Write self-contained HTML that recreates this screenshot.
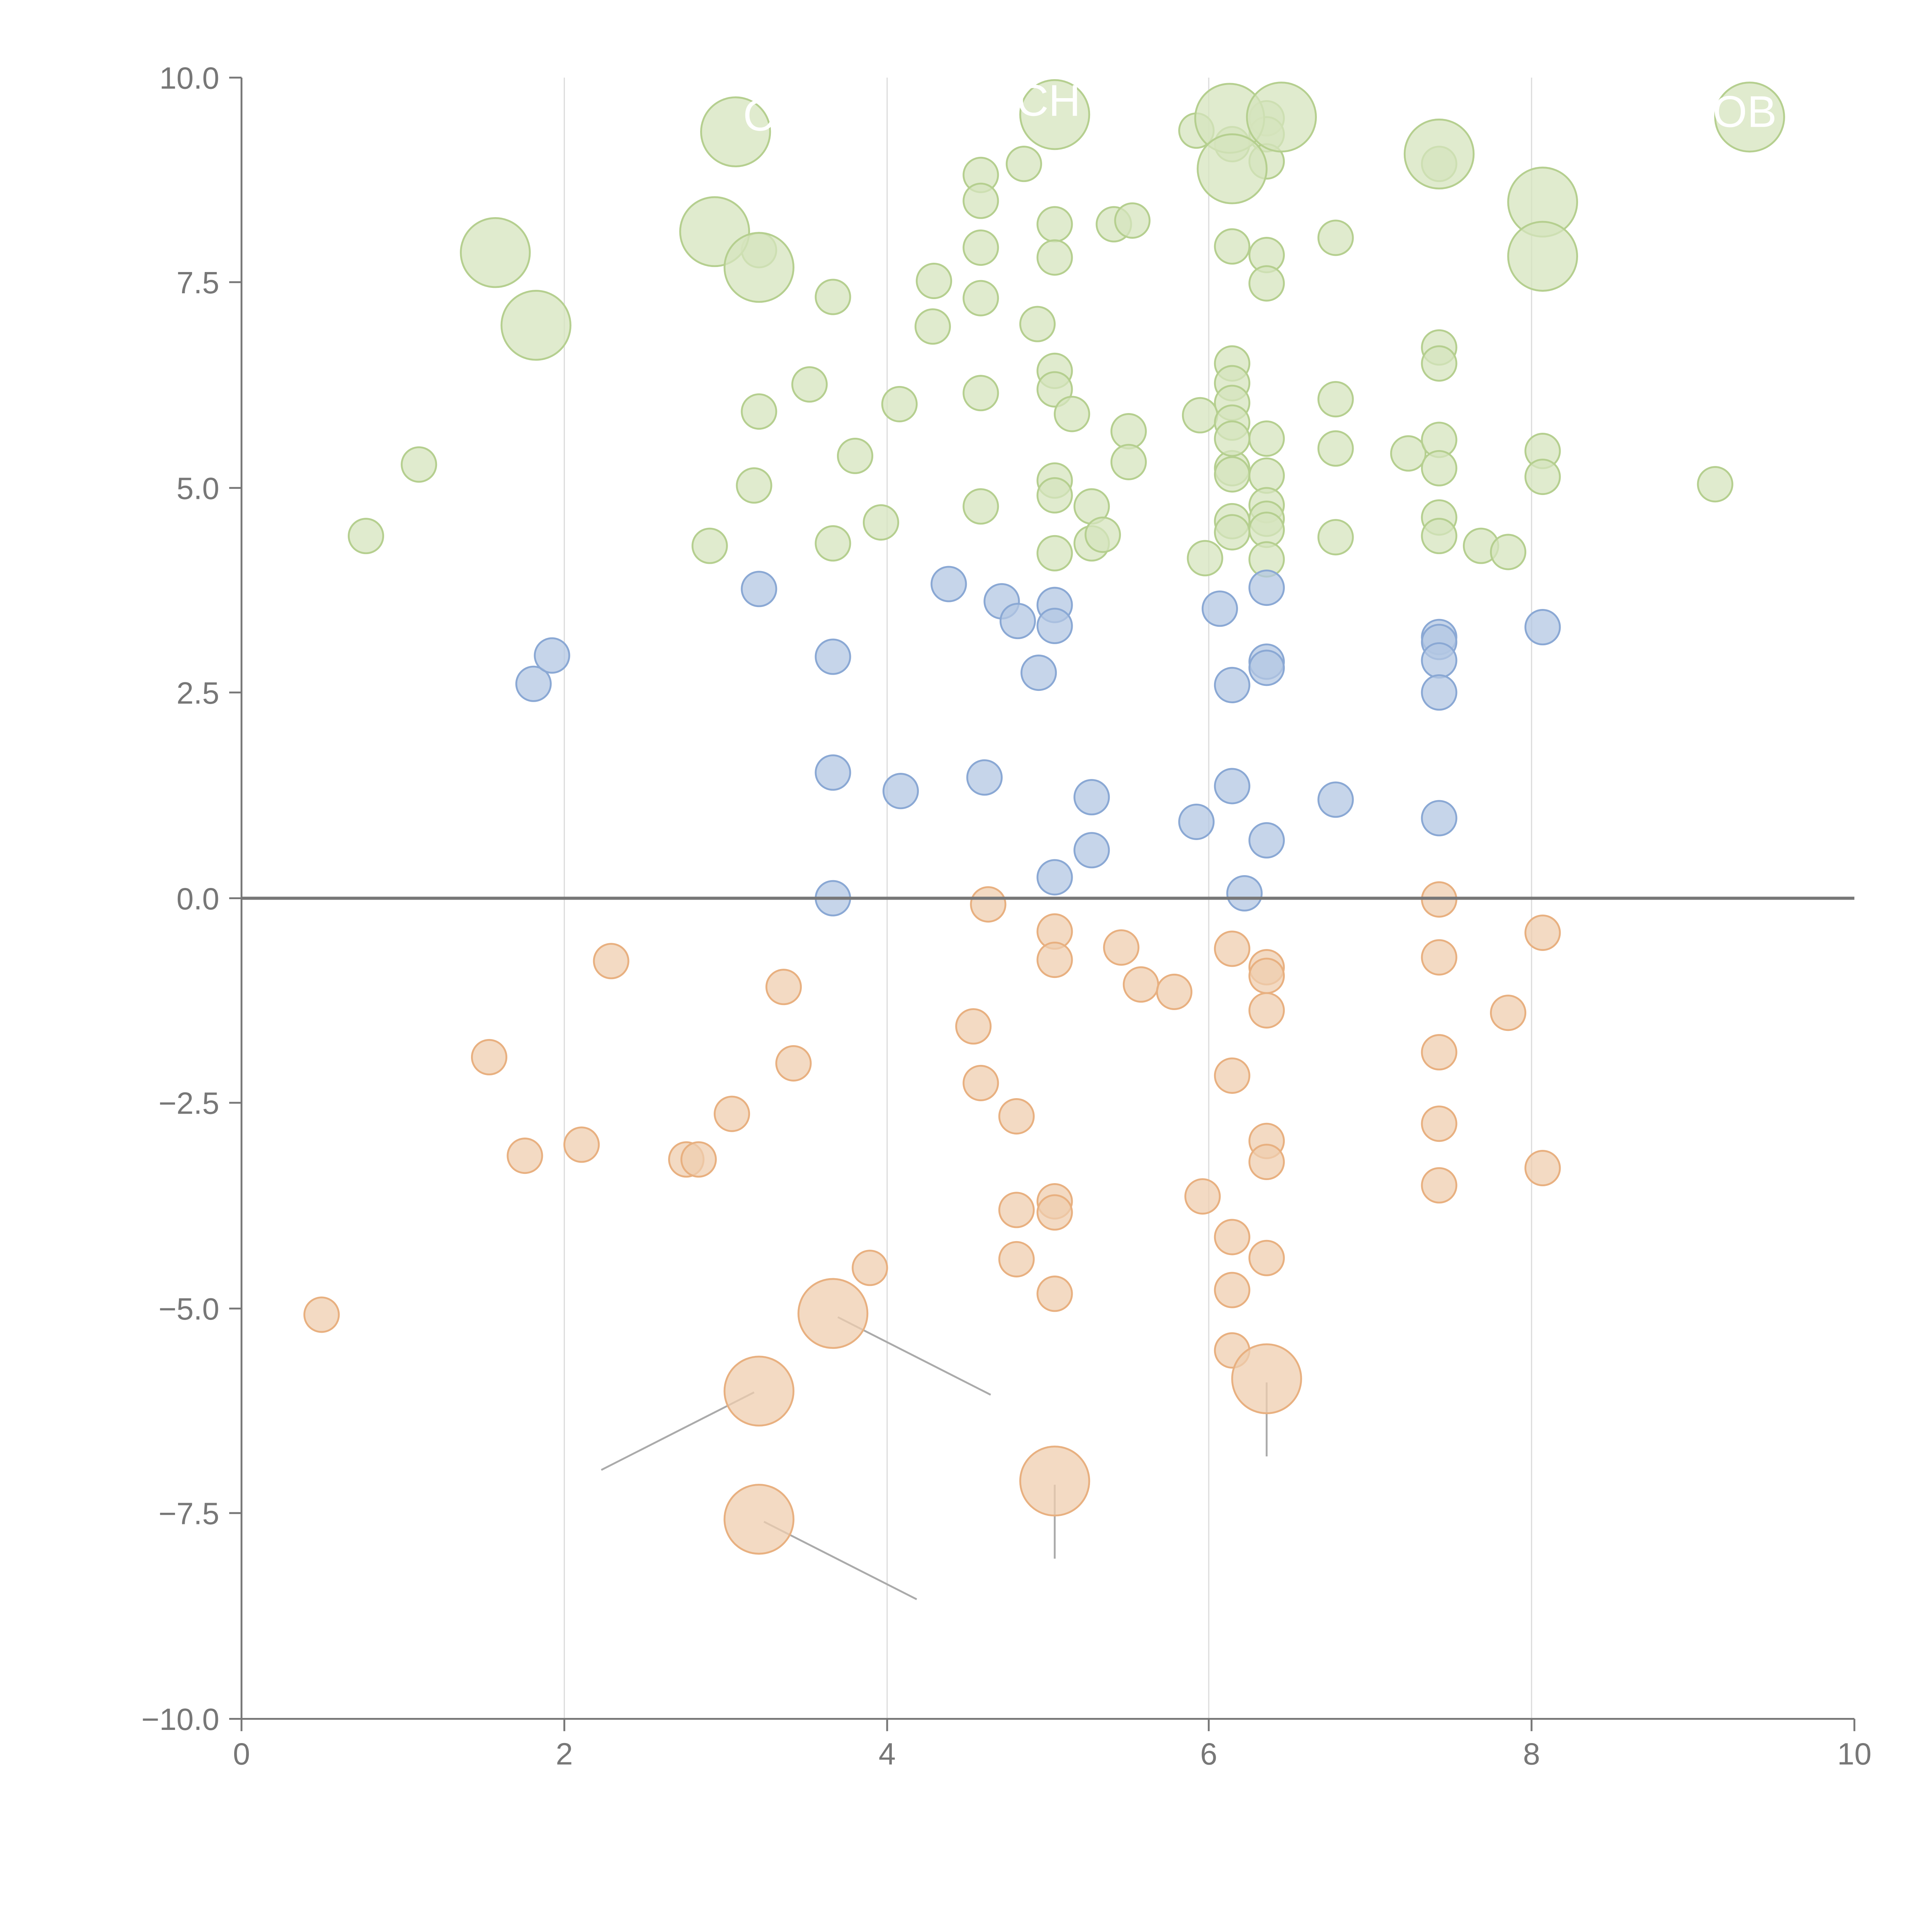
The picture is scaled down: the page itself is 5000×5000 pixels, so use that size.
<!DOCTYPE html>
<html><head><meta charset="utf-8"><style>
html,body{margin:0;padding:0;background:#fff;}
svg{display:block;}
text{font-family:"Liberation Sans",sans-serif;}
.g circle{fill:#d5e4bd;stroke:#b5cf8f;stroke-width:1.5;}
.b circle{fill:#b3c7e3;stroke:#8aa8d4;stroke-width:1.5;}
.o circle{fill:#efcdaf;stroke:#e8b080;stroke-width:1.5;}
.g circle,.b circle,.o circle{fill-opacity:0.75;}
.tl{fill:#777;font-size:25px;}
</style></head><body>
<svg width="5000" height="5000" viewBox="0 0 1568 1568" xmlns="http://www.w3.org/2000/svg">
<rect width="1568" height="1568" fill="#fff"/>
<g stroke="#ddd" stroke-width="1">
<line x1="458" y1="63" x2="458" y2="1395"/><line x1="720" y1="63" x2="720" y2="1395"/>
<line x1="981" y1="63" x2="981" y2="1395"/><line x1="1243" y1="63" x2="1243" y2="1395"/>
</g>
<g stroke="#777" stroke-width="1.5" fill="none">
<line x1="196" y1="63" x2="196" y2="1395"/><line x1="196" y1="1395" x2="1505" y2="1395"/>
<line x1="186" y1="63" x2="196" y2="63"/><line x1="186" y1="229" x2="196" y2="229"/><line x1="186" y1="396" x2="196" y2="396"/><line x1="186" y1="562" x2="196" y2="562"/><line x1="186" y1="729" x2="196" y2="729"/><line x1="186" y1="895" x2="196" y2="895"/><line x1="186" y1="1062" x2="196" y2="1062"/><line x1="186" y1="1228" x2="196" y2="1228"/><line x1="186" y1="1395" x2="196" y2="1395"/>
<line x1="196" y1="1395" x2="196" y2="1405"/><line x1="458" y1="1395" x2="458" y2="1405"/><line x1="720" y1="1395" x2="720" y2="1405"/><line x1="981" y1="1395" x2="981" y2="1405"/><line x1="1243" y1="1395" x2="1243" y2="1405"/><line x1="1505" y1="1395" x2="1505" y2="1405"/>
</g>
<g class="tl" text-anchor="end">
<text x="178" y="72">10.0</text><text x="178" y="238">7.5</text><text x="178" y="405">5.0</text><text x="178" y="571">2.5</text><text x="178" y="738">0.0</text><text x="178" y="904">−2.5</text><text x="178" y="1071">−5.0</text><text x="178" y="1237">−7.5</text><text x="178" y="1404">−10.0</text>
</g>
<g class="tl" text-anchor="middle">
<text x="196" y="1432">0</text><text x="458" y="1432">2</text><text x="720" y="1432">4</text><text x="981" y="1432">6</text><text x="1243" y="1432">8</text><text x="1505" y="1432">10</text>
</g>
<g stroke="#aaa" stroke-width="1.5">
<line x1="680" y1="1069" x2="804" y2="1132"/><line x1="612" y1="1130" x2="488" y2="1193"/><line x1="620" y1="1235" x2="744" y2="1298"/><line x1="856" y1="1205" x2="856" y2="1265"/><line x1="1028" y1="1122" x2="1028" y2="1182"/>
</g>
<g class="g">
<circle cx="297" cy="435" r="14"/><circle cx="340" cy="377" r="14"/><circle cx="576" cy="443" r="14"/><circle cx="612" cy="394" r="14"/><circle cx="616" cy="334" r="14"/><circle cx="616" cy="203" r="14"/><circle cx="657" cy="312" r="14"/><circle cx="676" cy="241" r="14"/><circle cx="676" cy="441" r="14"/><circle cx="694" cy="370" r="14"/><circle cx="715" cy="424" r="14"/><circle cx="730" cy="328" r="14"/><circle cx="758" cy="228" r="14"/><circle cx="757" cy="265" r="14"/><circle cx="796" cy="142" r="14"/><circle cx="796" cy="163" r="14"/><circle cx="796" cy="201" r="14"/><circle cx="796" cy="242" r="14"/><circle cx="796" cy="319" r="14"/><circle cx="796" cy="411" r="14"/><circle cx="831" cy="133" r="14"/><circle cx="842" cy="263" r="14"/><circle cx="856" cy="182" r="14"/><circle cx="856" cy="209" r="14"/><circle cx="856" cy="301" r="14"/><circle cx="856" cy="316" r="14"/><circle cx="856" cy="390" r="14"/><circle cx="856" cy="402" r="14"/><circle cx="856" cy="449" r="14"/><circle cx="870" cy="336" r="14"/><circle cx="886" cy="411" r="14"/><circle cx="886" cy="441" r="14"/><circle cx="895" cy="434" r="14"/><circle cx="904" cy="182" r="14"/><circle cx="919" cy="179" r="14"/><circle cx="916" cy="350" r="14"/><circle cx="916" cy="375" r="14"/><circle cx="971" cy="106" r="14"/><circle cx="974" cy="337" r="14"/><circle cx="978" cy="453" r="14"/><circle cx="1000" cy="200" r="14"/><circle cx="1000" cy="295" r="14"/><circle cx="1000" cy="311" r="14"/><circle cx="1000" cy="327" r="14"/><circle cx="1000" cy="343" r="14"/><circle cx="1000" cy="380" r="14"/><circle cx="1000" cy="385" r="14"/><circle cx="1000" cy="423" r="14"/><circle cx="1000" cy="432" r="14"/><circle cx="1000" cy="117" r="14"/><circle cx="1028" cy="96" r="14"/><circle cx="1028" cy="109" r="14"/><circle cx="1028" cy="131" r="14"/><circle cx="1028" cy="207" r="14"/><circle cx="1028" cy="230" r="14"/><circle cx="1028" cy="356" r="14"/><circle cx="1028" cy="386" r="14"/><circle cx="1028" cy="410" r="14"/><circle cx="1028" cy="421" r="14"/><circle cx="1028" cy="430" r="14"/><circle cx="1028" cy="454" r="14"/><circle cx="1084" cy="193" r="14"/><circle cx="1084" cy="324" r="14"/><circle cx="1084" cy="364" r="14"/><circle cx="1084" cy="436" r="14"/><circle cx="1143" cy="368" r="14"/><circle cx="1168" cy="282" r="14"/><circle cx="1168" cy="295" r="14"/><circle cx="1168" cy="357" r="14"/><circle cx="1168" cy="380" r="14"/><circle cx="1168" cy="420" r="14"/><circle cx="1168" cy="435" r="14"/><circle cx="1168" cy="133" r="14"/><circle cx="1202" cy="443" r="14"/><circle cx="1224" cy="448" r="14"/><circle cx="1252" cy="366" r="14"/><circle cx="1252" cy="387" r="14"/><circle cx="1392" cy="393" r="14"/><circle cx="1000" cy="356" r="14"/>
<circle cx="402" cy="205" r="28"/><circle cx="435" cy="264" r="28"/><circle cx="580" cy="188" r="28"/><circle cx="597" cy="107" r="28"/><circle cx="616" cy="217" r="28"/><circle cx="856" cy="93" r="28"/><circle cx="998" cy="96" r="28"/><circle cx="1000" cy="137" r="28"/><circle cx="1040" cy="95" r="28"/><circle cx="1168" cy="125" r="28"/><circle cx="1252" cy="164" r="28"/><circle cx="1252" cy="208" r="28"/><circle cx="1420" cy="95" r="28"/>
</g>
<g class="b">
<circle cx="433" cy="555" r="14"/><circle cx="448" cy="532" r="14"/><circle cx="616" cy="478" r="14"/><circle cx="676" cy="533" r="14"/><circle cx="676" cy="627" r="14"/><circle cx="676" cy="729" r="14"/><circle cx="731" cy="642" r="14"/><circle cx="770" cy="474" r="14"/><circle cx="799" cy="631" r="14"/><circle cx="813" cy="488" r="14"/><circle cx="826" cy="504" r="14"/><circle cx="843" cy="546" r="14"/><circle cx="856" cy="491" r="14"/><circle cx="856" cy="508" r="14"/><circle cx="856" cy="712" r="14"/><circle cx="886" cy="647" r="14"/><circle cx="886" cy="690" r="14"/><circle cx="971" cy="667" r="14"/><circle cx="990" cy="494" r="14"/><circle cx="1000" cy="556" r="14"/><circle cx="1000" cy="638" r="14"/><circle cx="1010" cy="725" r="14"/><circle cx="1028" cy="477" r="14"/><circle cx="1028" cy="537" r="14"/><circle cx="1028" cy="542" r="14"/><circle cx="1028" cy="682" r="14"/><circle cx="1084" cy="649" r="14"/><circle cx="1168" cy="517" r="14"/><circle cx="1168" cy="521" r="14"/><circle cx="1168" cy="536" r="14"/><circle cx="1168" cy="562" r="14"/><circle cx="1168" cy="664" r="14"/><circle cx="1252" cy="509" r="14"/>
</g>
<g class="o">
<circle cx="261" cy="1067" r="14"/><circle cx="397" cy="858" r="14"/><circle cx="426" cy="938" r="14"/><circle cx="472" cy="929" r="14"/><circle cx="496" cy="780" r="14"/><circle cx="557" cy="941" r="14"/><circle cx="567" cy="941" r="14"/><circle cx="594" cy="904" r="14"/><circle cx="636" cy="801" r="14"/><circle cx="644" cy="863" r="14"/><circle cx="706" cy="1029" r="14"/><circle cx="790" cy="833" r="14"/><circle cx="796" cy="879" r="14"/><circle cx="802" cy="734" r="14"/><circle cx="825" cy="906" r="14"/><circle cx="825" cy="982" r="14"/><circle cx="825" cy="1022" r="14"/><circle cx="856" cy="756" r="14"/><circle cx="856" cy="779" r="14"/><circle cx="856" cy="975" r="14"/><circle cx="856" cy="984" r="14"/><circle cx="856" cy="1050" r="14"/><circle cx="910" cy="769" r="14"/><circle cx="926" cy="799" r="14"/><circle cx="953" cy="805" r="14"/><circle cx="976" cy="971" r="14"/><circle cx="1000" cy="770" r="14"/><circle cx="1000" cy="873" r="14"/><circle cx="1000" cy="1004" r="14"/><circle cx="1000" cy="1047" r="14"/><circle cx="1000" cy="1096" r="14"/><circle cx="1028" cy="785" r="14"/><circle cx="1028" cy="792" r="14"/><circle cx="1028" cy="820" r="14"/><circle cx="1028" cy="926" r="14"/><circle cx="1028" cy="943" r="14"/><circle cx="1028" cy="1021" r="14"/><circle cx="1168" cy="730" r="14"/><circle cx="1168" cy="777" r="14"/><circle cx="1168" cy="854" r="14"/><circle cx="1168" cy="912" r="14"/><circle cx="1168" cy="962" r="14"/><circle cx="1224" cy="822" r="14"/><circle cx="1252" cy="757" r="14"/><circle cx="1252" cy="948" r="14"/>
<circle cx="676" cy="1066" r="28"/><circle cx="616" cy="1129" r="28"/><circle cx="616" cy="1233" r="28"/><circle cx="856" cy="1202" r="28"/><circle cx="1028" cy="1119" r="28"/>
</g>
<line x1="196" y1="729" x2="1505" y2="729" stroke="#777" stroke-width="2.5"/>
<g fill="#fff" font-size="36">
<text x="603" y="106">C</text><text x="825" y="94">CH</text><text x="1390" y="103">OB</text>
</g>
</svg>
</body></html>
